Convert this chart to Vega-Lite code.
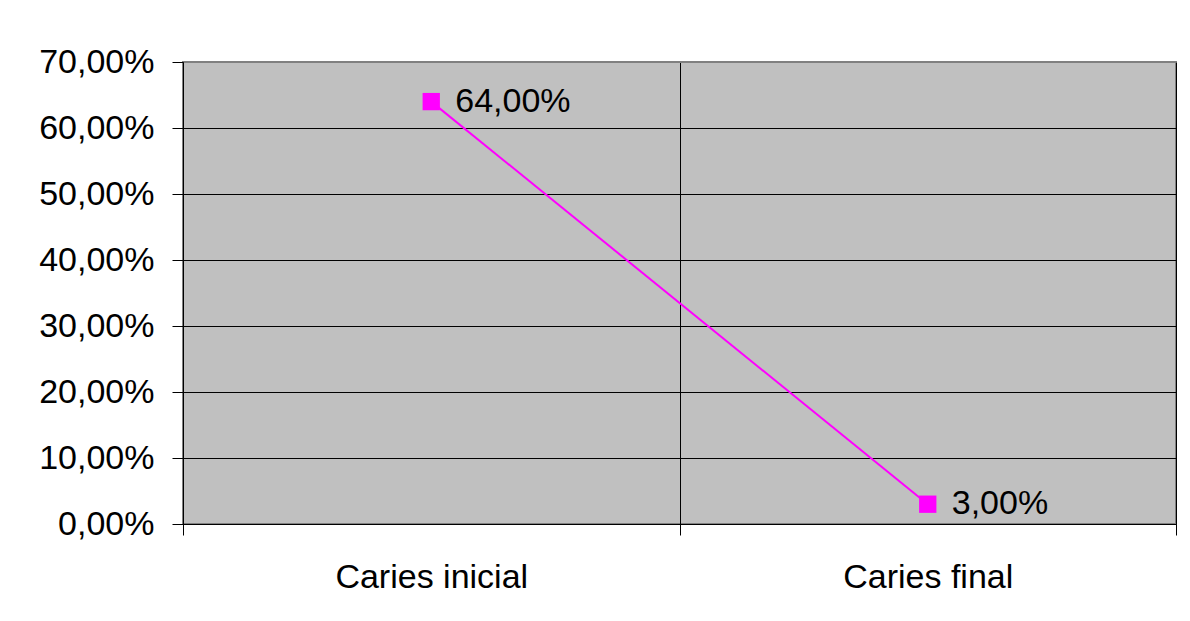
{
  "$schema": "https://vega.github.io/schema/vega-lite/v6.json",
  "autosize": "none",
  "width": 993,
  "height": 462,
  "padding": {"left": 183, "top": 62, "right": 14, "bottom": 97},
  "background": "white",
  "config": {
    "locale": {"number": {"decimal": ",", "thousands": ".", "grouping": [3], "currency": ["", " €"]}},
    "font": "Liberation Sans",
    "view": {"fill": "#C0C0C0", "stroke": "#808080", "strokeWidth": 2}
  },
  "data": {"values": [
    {"categoria": "Caries inicial", "valor": 0.64},
    {"categoria": "Caries final", "valor": 0.03}
  ]},
  "encoding": {
    "x": {
      "field": "categoria", "type": "nominal", "sort": null,
      "scale": {"paddingInner": 0, "paddingOuter": 0},
      "axis": {
        "title": null, "labelAngle": 0, "tickBand": "extent", "labelLimit": 0,
        "domainColor": "black", "domainWidth": 1,
        "tickColor": "black", "tickSize": 11, "tickWidth": 1,
        "grid": true, "gridColor": "black", "gridWidth": 1, "gridOpacity": 1,
        "labelFont": "Liberation Sans", "labelFontSize": 34, "labelColor": "black",
        "labelPadding": 25
      }
    },
    "y": {
      "field": "valor", "type": "quantitative",
      "scale": {"domain": [0, 0.7], "nice": false},
      "axis": {
        "title": null, "values": [0, 0.1, 0.2, 0.3, 0.4, 0.5, 0.6, 0.7], "format": ".2%",
        "domainColor": "black", "domainWidth": 1,
        "tickColor": "black", "tickSize": 11, "tickWidth": 1,
        "grid": true,
        "gridColor": {"condition": {"test": "datum.value >= 0.7", "value": "#808080"}, "value": "black"},
        "gridWidth": 1, "gridOpacity": 1, "labelLimit": 0,
        "labelFont": "Liberation Sans", "labelFontSize": 34, "labelColor": "black",
        "labelPadding": 18
      }
    }
  },
  "layer": [
    {"mark": {"type": "line", "color": "#FF00FF", "strokeWidth": 2}},
    {"mark": {"type": "point", "shape": "square", "filled": true, "color": "#FF00FF", "size": 300, "opacity": 1}},
    {
      "mark": {"type": "text", "align": "left", "baseline": "middle", "dx": 24, "fontSize": 34, "font": "Liberation Sans", "color": "black"},
      "encoding": {"text": {"field": "valor", "type": "quantitative", "format": ".2%"}}
    }
  ]
}
